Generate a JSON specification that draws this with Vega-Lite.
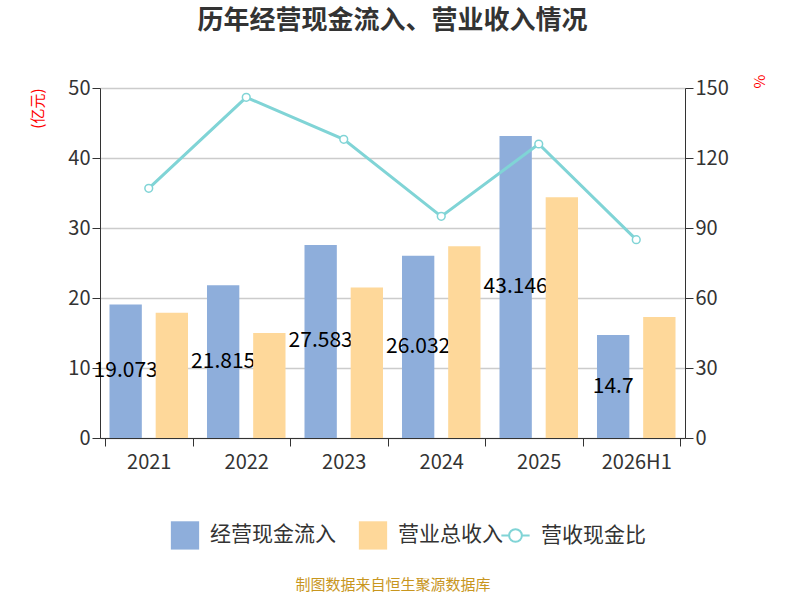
{
  "$schema": "https://vega.github.io/schema/vega-lite/v6.json",
  "width": 585,
  "height": 350,
  "padding": {"left": 30, "top": 8, "right": 10, "bottom": 5},
  "title": {"text": "历年经营现金流入、营业收入情况", "fontSize": 26, "font": "Noto Sans CJK SC", "fontWeight": "bold", "color": "#333", "offset": 40},
  "config": {"font": "Noto Sans CJK SC", "view": {"stroke": null}},
  "data": {"values": [
    {"year": "2021", "经营现金流入": 19.073, "营业总收入": 17.9, "ratio": 107},
    {"year": "2022", "经营现金流入": 21.815, "营业总收入": 15.0, "ratio": 146},
    {"year": "2023", "经营现金流入": 27.583, "营业总收入": 21.5, "ratio": 128},
    {"year": "2024", "经营现金流入": 26.032, "营业总收入": 27.4, "ratio": 95},
    {"year": "2025", "经营现金流入": 43.146, "营业总收入": 34.4, "ratio": 126},
    {"year": "2026H1", "经营现金流入": 14.7, "营业总收入": 17.3, "ratio": 85}
  ]},
  "encoding": {
    "x": {"field": "year", "type": "nominal", "sort": null, "scale": {"paddingInner": 0.1, "paddingOuter": 0.05},
      "axis": {"title": "制图数据来自恒生聚源数据库", "titleColor": "#c8961e", "titleFontSize": 15, "titleFontWeight": "normal", "titlePadding": 105, "labelAngle": 0, "labelFontSize": 20, "labelColor": "#333", "domainColor": "#333", "tickColor": "#333", "tickSize": 8, "labelPadding": 6, "tickBand": "extent"}}
  },
  "layer": [
    {
      "layer": [
        {
          "transform": [{"fold": ["经营现金流入", "营业总收入"], "as": ["series", "value"]}, {"filter": "datum.series == '经营现金流入'"}],
          "mark": {"type": "bar"},
          "encoding": {
            "xOffset": {"field": "series", "type": "nominal", "scale": {"domain": ["经营现金流入", "营业总收入"], "paddingInner": 0.3, "paddingOuter": 0.1}},
            "y": {"field": "value", "type": "quantitative", "scale": {"domain": [0, 50]},
              "axis": {"title": "(亿元)", "titleColor": "red", "titleFontSize": 15, "titleFontWeight": "normal", "titleAngle": -90, "titleAnchor": "end", "titlePadding": 22, "tickCount": 5, "labelFontSize": 20, "labelColor": "#333", "domain": true, "domainColor": "#333", "tickColor": "#333", "tickSize": 8, "gridColor": "#ccc", "gridWidth": 1.5}},
            "color": {"field": "series", "type": "nominal", "scale": {"domain": ["经营现金流入", "营业总收入"], "range": ["#8eaedb", "#fed89a"]},
              "legend": {"title": null, "orient": "none", "legendX": 70, "legendY": 432, "direction": "horizontal", "symbolType": "square", "symbolSize": 800, "labelFontSize": 21, "labelColor": "#333", "columnPadding": 22, "labelOffset": 10}}
          }
        },
        {
          "transform": [{"fold": ["经营现金流入", "营业总收入"], "as": ["series", "value"]}, {"filter": "datum.series == '经营现金流入'"}, {"calculate": "datum.value / 2", "as": "mid"}],
          "mark": {"type": "text", "fontSize": 21, "color": "#000", "baseline": "middle"},
          "encoding": {
            "xOffset": {"field": "series", "type": "nominal"},
            "y": {"field": "mid", "type": "quantitative"},
            "text": {"field": "value", "type": "nominal"}
          }
        },
        {
          "transform": [{"fold": ["经营现金流入", "营业总收入"], "as": ["series", "value"]}, {"filter": "datum.series == '营业总收入'"}],
          "mark": {"type": "bar"},
          "encoding": {
            "xOffset": {"field": "series", "type": "nominal"},
            "y": {"field": "value", "type": "quantitative"},
            "color": {"field": "series", "type": "nominal"}
          }
        }
      ]
    },
    {
      "mark": {"type": "line", "color": "#80d4d6", "strokeWidth": 3, "point": {"filled": true, "fill": "white", "stroke": "#80d4d6", "strokeWidth": 1.5, "size": 60}},
      "encoding": {
        "y": {"field": "ratio", "type": "quantitative", "scale": {"domain": [0, 150]},
          "axis": {"orient": "right", "title": "%", "titleColor": "red", "titleFontSize": 15, "titleFontWeight": "normal", "titleAngle": 90, "titleAnchor": "end", "titlePadding": 22, "values": [0, 30, 60, 90, 120, 150], "labelOverlap": false, "labelFontSize": 20, "labelColor": "#333", "domainColor": "#333", "tickColor": "#333", "tickSize": 8, "grid": false}},
        "stroke": {"datum": "营收现金比", "type": "nominal", "scale": {"range": ["#80d4d6"]},
          "legend": {"title": null, "orient": "none", "legendX": 400, "legendY": 432, "symbolType": "M-1,0L-0.45,0M0.45,0L1,0M0.45,0A0.45,0.45,0,1,1,-0.45,0A0.45,0.45,0,1,1,0.45,0", "symbolSize": 800, "symbolStrokeWidth": 2, "symbolFillColor": "white", "labelFontSize": 21, "labelColor": "#333", "labelOffset": 10}}
      }
    }
  ],
  "resolve": {"scale": {"y": "independent", "color": "independent"}}
}
